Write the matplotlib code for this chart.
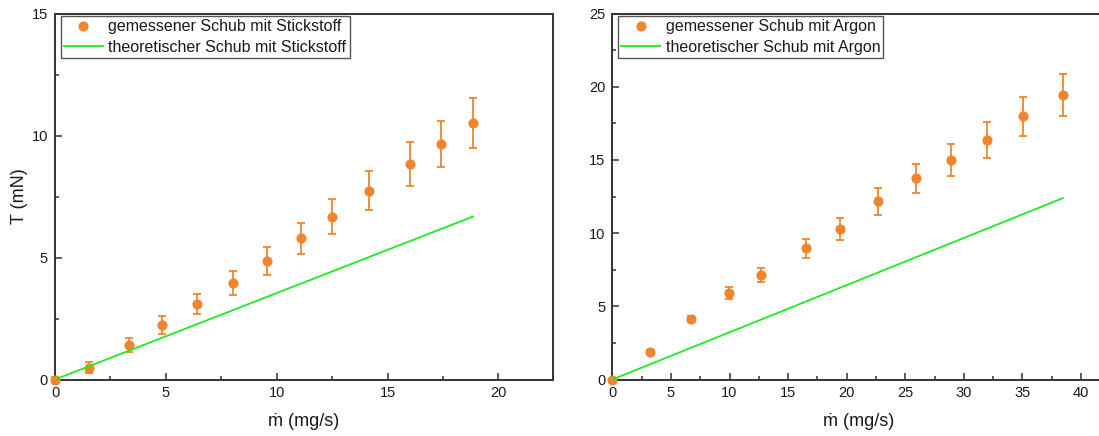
import matplotlib
matplotlib.use("Agg")
import matplotlib.pyplot as plt
from matplotlib.lines import Line2D
from matplotlib.ticker import MultipleLocator

plt.rcParams['font.family'] = ['Liberation Sans', 'DejaVu Sans']

# Nitrogen (Stickstoff)
n2_mdot = [0.0, 1.55, 3.32, 4.84, 6.41, 8.02, 9.56, 11.11, 12.50, 14.17, 16.03, 17.41, 18.86]
n2_thrust = [0.0, 0.49, 1.41, 2.23, 3.10, 3.96, 4.86, 5.78, 6.68, 7.73, 8.84, 9.66, 10.52]
n2_err = [0.12, 0.21, 0.29, 0.36, 0.42, 0.49, 0.58, 0.64, 0.71, 0.80, 0.89, 0.95, 1.02]
n2_theory_mdot = [0.0, 18.86]
n2_theory_thrust = [0.0, 6.68]

# Argon
ar_mdot = [0.0, 3.21, 6.74, 9.98, 12.68, 16.55, 19.39, 22.63, 25.90, 28.86, 31.93, 35.06, 38.44]
ar_thrust = [0.0, 1.91, 4.14, 5.89, 7.14, 8.95, 10.27, 12.16, 13.73, 14.98, 16.36, 17.98, 19.45]
ar_err = [0.05, 0.08, 0.20, 0.40, 0.50, 0.64, 0.74, 0.89, 1.02, 1.10, 1.23, 1.35, 1.45]
ar_theory_mdot = [0.0, 38.44]
ar_theory_thrust = [0.0, 12.39]

ORANGE = '#F0852D'
GREEN = '#1EEB1E'
SPINE = '#333333'
TEXT = '#1a1a1a'

W, H = 1099, 436
fig = plt.figure(figsize=(W / 100, H / 100), dpi=100)

def px_axes(x0, x1, y_top, y_bot):
    return fig.add_axes([x0 / W, 1 - y_bot / H, (x1 - x0) / W, (y_bot - y_top) / H])

ax1 = px_axes(55, 552.7, 13.5, 379.5)
ax2 = px_axes(612.3, 612.3 + 42 * 11.72, 13.5, 379.5)

def style(ax, xmax, ymax, xmaj, ymaj):
    ax.set_xlim(0, xmax)
    ax.set_ylim(0, ymax)
    ax.xaxis.set_major_locator(MultipleLocator(xmaj))
    ax.xaxis.set_minor_locator(MultipleLocator(xmaj / 2))
    ax.yaxis.set_major_locator(MultipleLocator(ymaj))
    ax.yaxis.set_minor_locator(MultipleLocator(ymaj / 2))
    ax.tick_params(which='both', direction='in', top=False, right=False,
                   color=SPINE, width=1.1, labelsize=10.5, labelcolor=TEXT)
    ax.tick_params(which='major', length=5, pad=5)
    ax.tick_params(which='minor', length=3)
    for s in ax.spines.values():
        s.set_color(SPINE)
        s.set_linewidth(1.4)
    ax.set_xlabel('ṁ (mg/s)', fontsize=13, labelpad=9, color=TEXT)

def draw(ax, mdot, thrust, err, tm, tt, gas):
    ax.errorbar(mdot, thrust, yerr=err, fmt='o', color=ORANGE, ms=6.3,
                ecolor=ORANGE, elinewidth=1.3, capsize=3, capthick=1.3,
                zorder=3, clip_on=False)
    ax.plot(tm, tt, color=GREEN, lw=1.3, zorder=4)
    handles = [
        Line2D([], [], ls='none', marker='o', ms=6.3, color=ORANGE),
        Line2D([], [], color=GREEN, lw=1.3),
    ]
    labels = [f'gemessener Schub mit {gas}', f'theoretischer Schub mit {gas}']
    leg = ax.legend(handles, labels, loc='upper left', bbox_to_anchor=(0.012, 0.993),
                    fontsize=11.5, frameon=True, fancybox=False, framealpha=1,
                    edgecolor='#555555', borderpad=0.2, handlelength=2.4,
                    handletextpad=0.37, labelspacing=0.36, borderaxespad=0)
    leg.get_frame().set_linewidth(1.0)
    for t in leg.get_texts():
        t.set_color(TEXT)

draw(ax1, n2_mdot, n2_thrust, n2_err, n2_theory_mdot, n2_theory_thrust, 'Stickstoff')
draw(ax2, ar_mdot, ar_thrust, ar_err, ar_theory_mdot, ar_theory_thrust, 'Argon')

style(ax1, 22.45, 15, 5, 5)
style(ax2, 42, 25, 5, 5)
ax1.set_ylabel('T (mN)', fontsize=13, labelpad=3, color=TEXT)

fig.savefig('out.png', dpi=100)
